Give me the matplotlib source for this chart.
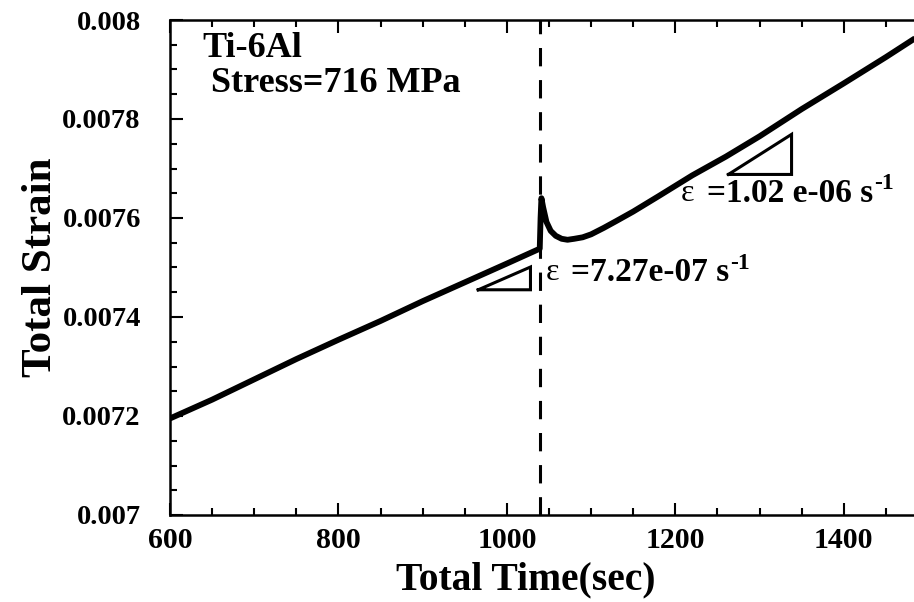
import matplotlib
matplotlib.use('Agg')
import matplotlib.pyplot as plt
from matplotlib.ticker import MultipleLocator, FormatStrFormatter

plt.rcParams['font.family'] = ['Liberation Serif', 'DejaVu Serif']
plt.rcParams['font.weight'] = 'bold'

# data
time = [600, 650, 700, 750, 800, 850, 900, 950, 1000, 1039, 1040, 1041,
        1043, 1047, 1052, 1058, 1065, 1072, 1080, 1090, 1100, 1115, 1130,
        1150, 1180, 1220, 1260, 1300, 1350, 1400, 1450, 1500]
strain = [0.007195, 0.007233, 0.007274, 0.007315, 0.007354, 0.007392,
          0.007432, 0.007470, 0.007508, 0.007538, 0.007600, 0.007640,
          0.007622, 0.007592, 0.007574, 0.007564, 0.007558, 0.007556,
          0.007558, 0.007561, 0.007567, 0.007580, 0.007594, 0.007613,
          0.007644, 0.007686, 0.007724, 0.007765, 0.007820, 0.007872,
          0.007925, 0.007980]
change_time = 1039

tri1_t = [966, 1028]
tri1_s = [0.007455, 0.007501]
tri2_t = [1263, 1338]
tri2_s = [0.007688, 0.007769]

rate1 = '=7.27e-07 s'
rate2 = '=1.02 e-06 s'

fig = plt.figure(figsize=(9.14, 6.02), dpi=100)
ax = fig.add_axes([170/914, 87/602, 758/914, 495/602])

ax.plot(time, strain, color='black', lw=4.2, solid_joinstyle='round',
        solid_capstyle='butt')
ax.axvline(change_time, color='black', lw=2.2, linestyle=(0, (6, 4.5)))

for tt, ss in [(tri1_t, tri1_s), (tri2_t, tri2_s)]:
    ax.plot([tt[0], tt[1], tt[1], tt[0]], [ss[0], ss[0], ss[1], ss[0]],
            color='black', lw=2.2, solid_joinstyle='miter')

ax.text(639, 0.007925, 'Ti-6Al', fontsize=26, fontweight='bold')
ax.text(649, 0.007855, 'Stress=716 MPa', fontsize=26, fontweight='bold')

for x_eps, x_txt, y, rate in [(1046, 1076, 0.00749, rate1),
                              (1206, 1238, 0.00765, rate2)]:
    ax.text(x_eps, y, 'ε', fontsize=23, fontweight='normal', va='center')
    t = ax.text(x_txt, y, rate, fontsize=24, fontweight='bold', va='center')
    ax.annotate('-1', xy=(1, 0.8), xycoords=t, xytext=(0.5, 0),
                textcoords='offset points', fontsize=17, fontweight='bold',
                va='center', ha='left')

ax.set_xlim(600, 1500)
ax.set_ylim(0.007, 0.008)
ax.xaxis.set_major_locator(MultipleLocator(200))
ax.xaxis.set_minor_locator(MultipleLocator(50))
ax.yaxis.set_major_locator(MultipleLocator(0.0002))
ax.yaxis.set_minor_locator(MultipleLocator(0.00005))
ax.yaxis.set_major_formatter(FormatStrFormatter('%g'))

ax.tick_params(which='both', direction='in', top=True, right=True, width=1.5)
ax.tick_params(which='major', length=9)
ax.tick_params(which='minor', length=5)
ax.tick_params(axis='x', labelsize=21.5, pad=9)
ax.tick_params(axis='y', labelsize=20.5, pad=21)
for s in ax.spines.values():
    s.set_linewidth(1.8)

ax.set_xlabel('Total Time(sec)', fontsize=28.5, fontweight='bold')
ax.set_ylabel('Total Strain', fontsize=31, fontweight='bold')
ax.xaxis.set_label_coords((526 - 170) / 758, -(561 - 515) / 495)
ax.yaxis.set_label_coords(-(170 - 60) / 758, 0.5)

fig.savefig('out.png', dpi=100)
